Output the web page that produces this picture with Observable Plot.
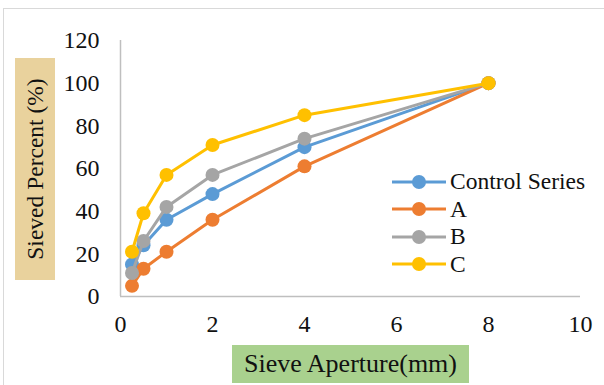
<!DOCTYPE html>
<html>
<head>
<meta charset="utf-8">
<script src="https://cdn.jsdelivr.net/npm/d3@7"></script>
<script src="https://cdn.jsdelivr.net/npm/@observablehq/plot@0.6"></script>
<style>
  html, body { margin: 0; padding: 0; background: #fff; }
  #wrap { position: relative; width: 604px; height: 385px; overflow: hidden; }
  #wrap, #wrap * { font-family: "Liberation Serif", "Times New Roman", serif !important; }
  #border { position: absolute; left: 3px; top: 8px; width: 700px; height: 500px; border: 1.5px solid #d9d9d9; box-sizing: border-box; }
  #ylab { position: absolute; left: 15px; top: 58px; width: 40px; height: 222px; background: #e9d29d; }
  #ylab span { position: absolute; left: 50%; top: 50%; transform: translate(-50%, -50%) rotate(-90deg); white-space: nowrap; font-size: 23.5px; color: #111; }
  #xlab { position: absolute; left: 232px; top: 345px; width: 237px; height: 38px; background: #a9d18e; font-size: 26px; color: #111; text-align: center; line-height: 38px; white-space: nowrap; }
  #legend { position: absolute; left: 392px; top: 168px; }
  .row { display: flex; align-items: center; height: 27.5px; font-size: 23.5px; color: #111; white-space: nowrap; }
  .row svg { margin-right: 4px; }
  #chart { position: absolute; left: 0; top: 0; }
  #chart svg text { font-size: 24px !important; fill: #111; }
</style>
</head>
<body>
<div id="wrap">
  <div id="border"></div>
  <div id="chart"></div>
  <div id="ylab"><span>Sieved Percent (%)</span></div>
  <div id="xlab">Sieve Aperture(mm)</div>
  <div id="legend"></div>
</div>
<script>
const aperture = [0.25, 0.5, 1, 2, 4, 8];
const seriesNames = ["Control Series", "A", "B", "C"];
const controlSeries = [15, 24, 36, 48, 70, 100];
const seriesA = [5, 13, 21, 36, 61, 100];
const seriesB = [11, 26, 42, 57, 74, 100];
const seriesC = [21, 39, 57, 71, 85, 100];
const colors = ["#5b9bd5", "#ed7d31", "#a5a5a5", "#ffc000"];
const xTicks = [0, 2, 4, 6, 8, 10];
const yTicks = [0, 20, 40, 60, 80, 100, 120];

const allValues = [controlSeries, seriesA, seriesB, seriesC];
const data = [];
seriesNames.forEach((s, i) => aperture.forEach((x, j) => data.push({series: s, x, y: allValues[i][j]})));

const marks = [
  Plot.ruleX([0], {stroke: "#bfbfbf", strokeWidth: 1.5, y1: 0, y2: 120}),
  Plot.ruleY([0], {stroke: "#bfbfbf", strokeWidth: 1.5, x1: 0, x2: 10}),
  Plot.axisX({ticks: xTicks, tickSize: 0, tickPadding: 18, fontSize: 24, label: null}),
  Plot.axisY({ticks: yTicks, tickSize: 0, tickPadding: 21, fontSize: 24, label: null})
];
seriesNames.forEach((s, i) => {
  const d = data.filter(r => r.series === s);
  marks.push(Plot.line(d, {x: "x", y: "y", stroke: colors[i], strokeWidth: 3}));
  marks.push(Plot.dot(d, {x: "x", y: "y", fill: colors[i], r: 7}));
});

const plot = Plot.plot({
  width: 604,
  height: 385,
  marginLeft: 120,
  marginRight: 24,
  marginTop: 40,
  marginBottom: 89,
  style: {fontFamily: "'Liberation Serif', 'Times New Roman', serif", color: "#111", background: "transparent"},
  x: {domain: [0, 10]},
  y: {domain: [0, 120]},
  marks
});
document.getElementById("chart").appendChild(plot);

const legend = document.getElementById("legend");
seriesNames.forEach((s, i) => {
  const row = document.createElement("div");
  row.className = "row";
  row.innerHTML = `<svg width="54" height="16"><line x1="0" x2="54" y1="8" y2="8" stroke="${colors[i]}" stroke-width="3"/><circle cx="27" cy="8" r="7" fill="${colors[i]}"/></svg><span>${s}</span>`;
  legend.appendChild(row);
});
</script>
</body>
</html>
